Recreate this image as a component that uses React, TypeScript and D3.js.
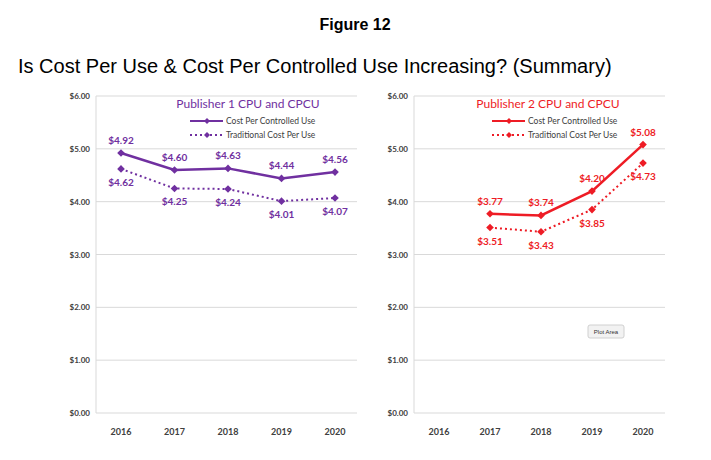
import React from "react";
import * as d3 from "d3";

const years = ["2016", "2017", "2018", "2019", "2020"];
const yTicks = [0, 1, 2, 3, 4, 5, 6];
const p1Cpcu = [4.92, 4.6, 4.63, 4.44, 4.56];
const p1Cpu = [4.62, 4.25, 4.24, 4.01, 4.07];
const p2Cpcu: (number | null)[] = [null, 3.77, 3.74, 4.2, 5.08];
const p2Cpu: (number | null)[] = [null, 3.51, 3.43, 3.85, 4.73];

type P = { x0: number; x1: number; title: string; color: string; a: (number | null)[]; b: (number | null)[]; tx: number; lx: number };

const diamond = (cx: number, cy: number, r: number) => `M${cx},${cy - r}L${cx + r},${cy}L${cx},${cy + r}L${cx - r},${cy}Z`;

function Panel({ x0, x1, title, color, a, b, tx, lx }: P) {
  const x = d3.scalePoint().domain(years).range([x0 + 25, x1 - 22]);
  const y = d3.scaleLinear().domain([0, 6]).range([413, 96]);
  const line = d3.line<number | null>().defined(d => d != null).x((_, i) => x(years[i])!).y(d => y(d as number));
  const lab = (v: number) => "$" + v.toFixed(2);
  return (
    <g fontFamily="Lato, 'Open Sans', sans-serif">
      {yTicks.map(t => (
        <g key={t}>
          <line x1={x0} x2={x1} y1={y(t)} y2={y(t)} stroke="#d9d9d9" />
          <text x={x0 - 6} y={y(t) + 3} textAnchor="end" fontSize={8} fontWeight="bold" fill="#404040">{"$" + t.toFixed(2)}</text>
        </g>
      ))}
      <line x1={x0} x2={x0} y1={96} y2={413} stroke="#d9d9d9" />
      {years.map(yr => (
        <text key={yr} x={x(yr)} y={435} textAnchor="middle" fontSize={9} fontWeight="bold" fill="#404040">{yr}</text>
      ))}
      <path d={line(a)!} fill="none" stroke={color} strokeWidth={2.5} />
      <path d={line(b)!} fill="none" stroke={color} strokeWidth={2} strokeDasharray="2,3" />
      {[a, b].map((s, si) => s.map((v, i) => v == null ? null : (
        <g key={si + "-" + i}>
          <path d={diamond(x(years[i])!, y(v), 3.8)} fill={color} />
          <text x={x(years[i])} y={si === 0 ? y(v) - 9 : y(v) + 17} textAnchor="middle" fontSize={10} fontWeight="bold" fill={color}>{lab(v)}</text>
        </g>
      )))}
      <text x={tx} y={108} textAnchor="middle" fontSize={12} fill={color}>{title}</text>
      <line x1={lx} x2={lx + 33} y1={121} y2={121} stroke={color} strokeWidth={2} />
      <path d={diamond(lx + 17, 121, 3)} fill={color} />
      <text x={lx + 36} y={124} fontSize={8.5} fill="#404040">Cost Per Controlled Use</text>
      <line x1={lx} x2={lx + 33} y1={135} y2={135} stroke={color} strokeWidth={2} strokeDasharray="2,3" />
      <path d={diamond(lx + 17, 135, 3)} fill={color} />
      <text x={lx + 36} y={138} fontSize={8.5} fill="#404040">Traditional Cost Per Use</text>
    </g>
  );
}

export default function App() {
  return (
    <svg width={711} height={460} style={{ position: "absolute", left: 0, top: 0, background: "#fff" }}>
      <text x={355} y={30} textAnchor="middle" fontFamily="Arial, 'Liberation Sans', sans-serif" fontWeight="bold" fontSize={16}>Figure 12</text>
      <text x={18} y={73} fontFamily="Arial, 'Liberation Sans', sans-serif" fontSize={20}>Is Cost Per Use &amp; Cost Per Controlled Use Increasing? (Summary)</text>
      <Panel x0={96} x1={357} title="Publisher 1 CPU and CPCU" color="#7030a0" a={p1Cpcu} b={p1Cpu} tx={248} lx={190} />
      <Panel x0={414} x1={665} title="Publisher 2 CPU and CPCU" color="#ee1c25" a={p2Cpcu} b={p2Cpu} tx={548} lx={492} />
      <rect x={588} y={325} width={36} height={13} rx={2} fill="#f2f2f2" stroke="#d0d0d0" />
      <text x={606} y={334} textAnchor="middle" fontSize={6} fontFamily="Arial, sans-serif" fill="#333">Plot Area</text>
    </svg>
  );
}
